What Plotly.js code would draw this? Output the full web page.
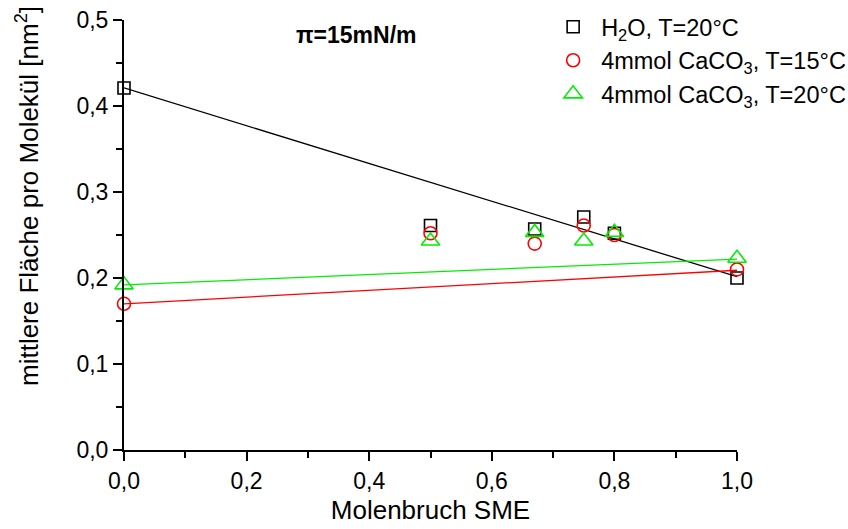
<!DOCTYPE html>
<html>
<head>
<meta charset="utf-8">
<script src="https://cdn.plot.ly/plotly-3.0.1.min.js"></script>
<style>html,body{margin:0;padding:0;background:#fff}#chart{width:848px;height:529px}</style>
</head>
<body>
<div id="chart"></div>
<script>
// Data
const molX = [0.0, 0.5, 0.67, 0.75, 0.8, 1.0];
const areaH2O = [0.421, 0.261, 0.257, 0.271, 0.252, 0.200];
const areaCa15 = [0.170, 0.252, 0.240, 0.261, 0.250, 0.210];
const areaCa20 = [0.192, 0.243, 0.253, 0.243, 0.253, 0.223];
// Linear fit end points
const fitX = [0.0, 1.0];
const fitH2O = [0.421, 0.2015];
const fitCa15 = [0.170, 0.209];
const fitCa20 = [0.192, 0.222];

const nameH2O = 'H<sub>2</sub>O, T=20°C';
const nameCa15 = '4mmol CaCO<sub>3</sub>, T=15°C';
const nameCa20 = '4mmol CaCO<sub>3</sub>, T=20°C';

const FONT = 'Liberation Sans, Arial, sans-serif';

const traces = [
  {x: fitX, y: fitH2O, mode: 'lines', line: {color: '#000000', width: 1.3}, showlegend: false, hoverinfo: 'skip'},
  {x: fitX, y: fitCa15, mode: 'lines', line: {color: '#ff0000', width: 1.3}, showlegend: false, hoverinfo: 'skip'},
  {x: fitX, y: fitCa20, mode: 'lines', line: {color: '#00ee00', width: 1.3}, showlegend: false, hoverinfo: 'skip'},
  {x: molX, y: areaH2O, name: nameH2O, mode: 'markers', cliponaxis: false,
   marker: {symbol: 'square-open', size: 12, color: '#000000', line: {width: 1.6, color: '#000000'}}},
  {x: molX, y: areaCa15, name: nameCa15, mode: 'markers', cliponaxis: false,
   marker: {symbol: 'circle-open', size: 13, color: '#ff0000', line: {width: 1.6, color: '#ff0000'}}},
  {x: molX, y: areaCa20, name: nameCa20, mode: 'markers', cliponaxis: false,
   marker: {symbol: 'triangle-up-open', size: 16, color: '#00ee00', line: {width: 1.6, color: '#00ee00'}}}
];

const layout = {
  width: 848, height: 529,
  margin: {l: 124, r: 111, t: 20, b: 79, pad: 0, autoexpand: false},
  paper_bgcolor: '#ffffff', plot_bgcolor: '#ffffff',
  separators: ', ',
  font: {family: FONT, color: '#000000', size: 23},
  showlegend: true,
  legend: {x: 0.687, y: 1.035, xanchor: 'left', yanchor: 'top', bgcolor: 'rgba(0,0,0,0)',
           font: {family: FONT, size: 23.5, color: '#000'}, tracegroupgap: 0, itemwidth: 46},
  xaxis: {
    range: [0, 1], dtick: 0.2, tick0: 0, tickformat: '.1f',
    showgrid: false, zeroline: false, showline: true, linecolor: '#000', linewidth: 2,
    ticks: 'outside', ticklen: 9, tickwidth: 2, tickcolor: '#000',
    tickfont: {family: FONT, size: 23},
    minor: {dtick: 0.1, ticks: 'outside', ticklen: 6, tickwidth: 2, tickcolor: '#000', showgrid: false},
    title: {text: 'Molenbruch SME', font: {family: FONT, size: 26}, standoff: 8},
    automargin: false
  },
  yaxis: {
    range: [0, 0.5], dtick: 0.1, tick0: 0, tickformat: '.1f',
    showgrid: false, zeroline: false, showline: true, linecolor: '#000', linewidth: 2,
    ticks: 'outside', ticklen: 9, tickwidth: 2, tickcolor: '#000',
    tickfont: {family: FONT, size: 23},
    minor: {dtick: 0.05, ticks: 'outside', ticklen: 6, tickwidth: 2, tickcolor: '#000', showgrid: false},
    automargin: false
  },
  annotations: [
    {text: '<b>π=15mN/m</b>', xref: 'paper', yref: 'paper', x: 0.38, y: 0.965,
     xanchor: 'center', yanchor: 'middle', showarrow: false, font: {family: FONT, size: 23, color: '#000'}},
    {text: 'mittlere Fläche pro Molekül [nm<sup>2</sup>]', xref: 'paper', yref: 'paper',
     x: -0.1566, y: 0.5907, xanchor: 'center', yanchor: 'middle', textangle: -90, showarrow: false,
     font: {family: FONT, size: 26, color: '#000'}}
  ]
};

Plotly.newPlot('chart', traces, layout, {displayModeBar: false, staticPlot: true});
</script>
</body>
</html>
